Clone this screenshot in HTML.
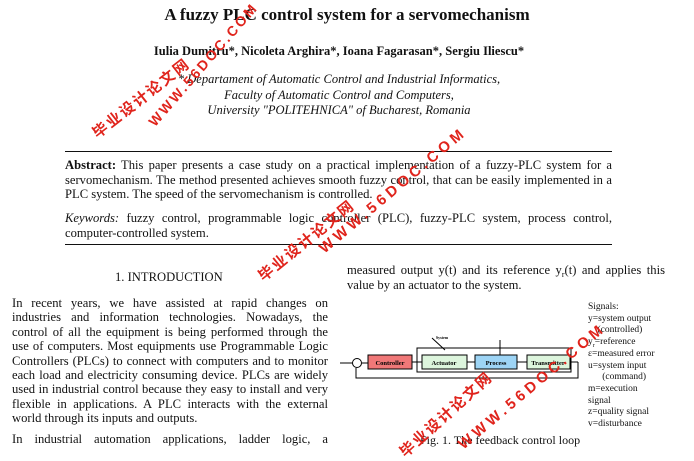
<!DOCTYPE html>
<html><head><meta charset="utf-8"><style>
body{margin:0;width:694px;height:453px;background:#fff;position:relative;overflow:hidden;font-family:"Liberation Serif",serif;color:#111}
.a{position:absolute;white-space:nowrap}
sub{vertical-align:baseline;position:relative;top:3px;line-height:0}
.wm{position:absolute;color:#e0241c;font-weight:bold;font-family:"Liberation Sans","Noto Sans CJK SC",sans-serif;white-space:nowrap;transform-origin:0 100%;line-height:17px;height:17px}
</style></head><body>
<div class="a" style="left:0;width:694px;text-align:center;top:5px;font-size:17px;font-weight:bold">A fuzzy PLC control system for a servomechanism</div>
<div class="a" style="left:0;width:678px;text-align:center;top:44px;font-size:12.5px;font-weight:bold">Iulia Dumitru*, Nicoleta Arghira*, Ioana Fagarasan*, Sergiu Iliescu*</div>
<div class="a" style="left:0;width:678px;text-align:center;top:72px;font-size:12.5px;font-style:italic;line-height:15.5px">* Departament of Automatic Control and Industrial Informatics,<br>Faculty of Automatic Control and Computers,<br>University "POLITEHNICA" of Bucharest, Romania</div>
<div class="a" style="left:65px;width:547px;top:151px;border-top:1px solid #111"></div>
<div class="a" style="left:65px;width:547px;top:244px;border-top:1px solid #111"></div>
<div class="a" style="left:65px;width:547px;top:158px;font-size:12.6px;line-height:14.5px;white-space:normal;text-align:justify"><b>Abstract:</b> This paper presents a case study on a practical implementation of a fuzzy-PLC system for a servomechanism. The method presented achieves smooth fuzzy control, that can be easily implemented in a PLC system. The speed of the servomechanism is controlled.</div>
<div class="a" style="left:65px;width:547px;top:211px;font-size:12.6px;line-height:14.5px;white-space:normal;text-align:justify"><i>Keywords:</i> fuzzy control, programmable logic controller (PLC), fuzzy-PLC system, process control, computer-controlled system.</div>
<div class="a" style="left:115px;top:270px;font-size:12.6px">1. INTRODUCTION</div>
<div class="a" style="left:347px;width:318px;top:263px;font-size:12.6px;line-height:15px;white-space:normal;text-align:justify">measured output y(t) and its reference y<sub style="font-size:8px">r</sub>(t) and applies this value by an actuator to the system.</div>
<div class="a" style="left:12px;width:316px;top:296px;font-size:12.6px;line-height:14.4px;white-space:normal;text-align:justify">In recent years, we have assisted at rapid changes on industries and information technologies. Nowadays, the control of all the equipment is being performed through the use of computers. Most equipments use Programmable Logic Controllers (PLCs) to connect with computers and to monitor each load and electricity consuming device. PLCs are widely used in industrial control because they easy to install and very flexible in applications. A PLC interacts with the external world through its inputs and outputs.</div>
<div class="a" style="left:12px;width:316px;top:432px;font-size:12.6px;white-space:normal;text-align:justify;text-align-last:justify">In industrial automation applications, ladder logic, a</div>
<svg class="a" style="left:0;top:0" width="694" height="453">
<g stroke="#000" stroke-width="1" fill="none">
<rect x="417" y="348" width="154" height="24"/>
<line x1="340" y1="363" x2="353" y2="363"/>
<circle cx="357" cy="363" r="4.5" fill="#fff"/>
<line x1="362" y1="363" x2="368" y2="363"/>
<line x1="412" y1="362" x2="422" y2="362"/>
<line x1="467" y1="362" x2="475" y2="362"/>
<line x1="517" y1="362" x2="527" y2="362"/>
<line x1="570" y1="362" x2="578" y2="362"/>
<polyline points="578,362 578,378 356,378 356,368"/>
<line x1="500" y1="340" x2="500" y2="355"/>
<line x1="432" y1="338" x2="445" y2="350"/>
</g>
<rect x="368" y="355" width="44" height="14" fill="#f07878" stroke="#000"/>
<rect x="422" y="355" width="45" height="14" fill="#ddf5dd" stroke="#000"/>
<rect x="475" y="355" width="42" height="14" fill="#9dd4f5" stroke="#000"/>
<rect x="527" y="355" width="43" height="14" fill="#ddf5dd" stroke="#000"/>
<g font-family="Liberation Serif" font-size="6.5" text-anchor="middle" font-weight="bold">
<text x="390" y="365">Controller</text><text x="444" y="365">Actuator</text><text x="496" y="365">Process</text><text x="548" y="365">Transmitter</text>
<text x="442" y="339" font-size="4">System</text></g>
</svg>
<div class="a" style="left:588px;top:302px;font-size:9.5px;line-height:11.7px">Signals:<br>y=system output<br>&nbsp;&nbsp;&nbsp;&nbsp;(controlled)<br>y<sub style="font-size:6px">r</sub>=reference<br>ε=measured error<br>u=system input<br>&nbsp;&nbsp;&nbsp;&nbsp;&nbsp;&nbsp;(command)<br>m=execution<br>signal<br>z=quality signal<br>v=disturbance</div>
<div class="a" style="left:420px;top:433px;font-size:12px">Fig. 1. The feedback control loop</div>
<div class="wm" style="left:100px;top:125px;font-size:15px;letter-spacing:2px;transform:rotate(-38deg)">毕业设计论文网</div>
<div class="wm" style="left:158px;top:113px;font-size:14px;letter-spacing:2.5px;transform:rotate(-49deg)">WWW.56DOC.COM</div>
<div class="wm" style="left:266px;top:268px;font-size:15px;letter-spacing:2px;transform:rotate(-39deg)">毕业设计论文网</div>
<div class="wm" style="left:327px;top:240px;font-size:15px;letter-spacing:4px;transform:rotate(-40deg)">WWW.56DOC.COM</div>
<div class="wm" style="left:408px;top:444px;font-size:15px;letter-spacing:2px;transform:rotate(-42deg)">毕业设计论文网</div>
<div class="wm" style="left:466px;top:436px;font-size:15px;letter-spacing:4px;transform:rotate(-40deg)">WWW.56DOC.COM</div>
</body></html>
